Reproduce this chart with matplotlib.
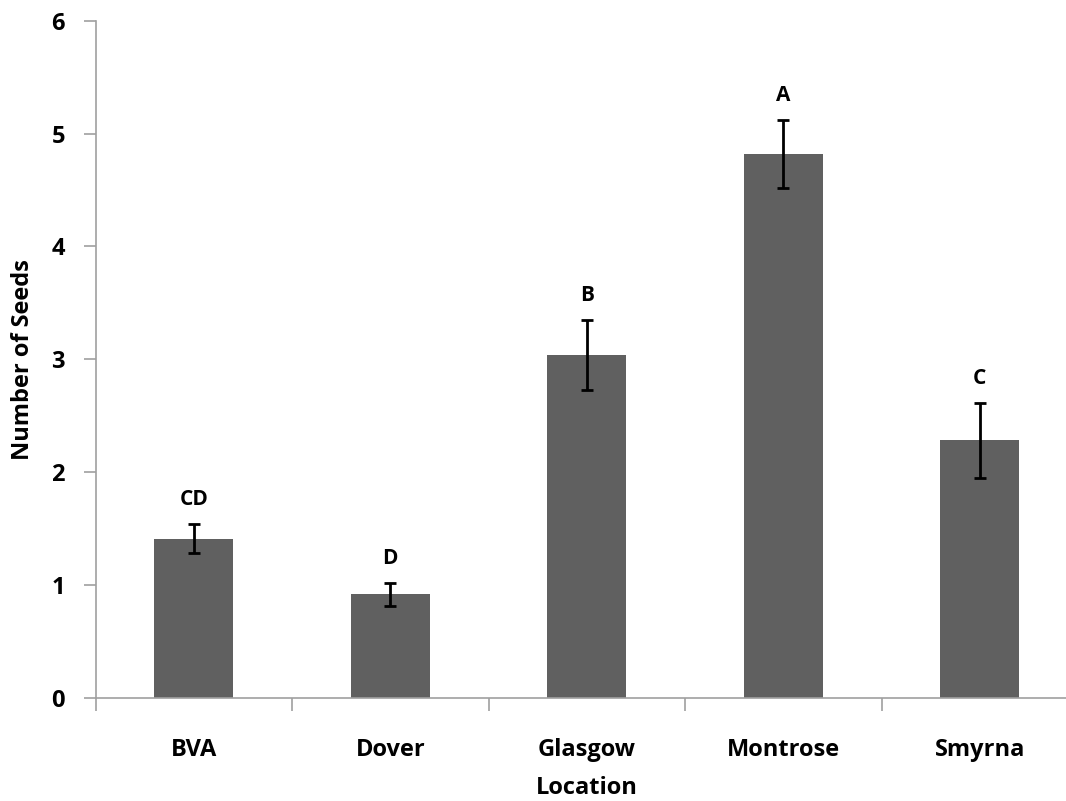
import matplotlib.pyplot as plt
import numpy as np

plt.rcParams['font.family'] = ['Open Sans', 'DejaVu Sans']

locations = ['BVA', 'Dover', 'Glasgow', 'Montrose', 'Smyrna']
seeds = [1.41, 0.915, 3.04, 4.82, 2.28]
errs = [0.13, 0.10, 0.31, 0.30, 0.33]
letters = ['CD', 'D', 'B', 'A', 'C']

fig = plt.figure(figsize=(10.66, 8.01), dpi=100)
ax = fig.add_axes([0.0896, 0.129, 0.9217, 0.845])

x = np.arange(len(locations))
ax.bar(x, seeds, width=0.40, color='#606060', zorder=2)
ax.errorbar(x, seeds, yerr=errs, fmt='none', ecolor='black', elinewidth=2,
            capsize=4, capthick=2, zorder=3)

# significance letters above the error bars
for i in range(len(x)):
    ax.annotate(letters[i], (x[i], seeds[i] + errs[i]), xytext=(0, 10),
                textcoords='offset points', ha='center', va='bottom',
                fontsize=15, fontweight='bold')

ax.set_xlim(-0.5, len(locations) - 0.5)
ax.set_ylim(0, 6)
ax.set_yticks(range(7))
ax.set_yticklabels([str(v) for v in range(7)], fontsize=17, fontweight='bold')
ax.set_xticks(x)
ax.set_xticklabels(locations, fontsize=17, fontweight='bold')
ax.set_xticks(np.arange(-0.5, len(locations)), minor=True)
ax.tick_params(axis='x', which='major', length=0, pad=29)
ax.tick_params(axis='x', which='minor', length=9, color='#a0a0a0', width=1.2)
ax.tick_params(axis='y', length=9, color='#a0a0a0', width=1.2, pad=13)

for s in ['top', 'right']:
    ax.spines[s].set_visible(False)
for s in ['left', 'bottom']:
    ax.spines[s].set_color('#a0a0a0')
    ax.spines[s].set_linewidth(1.2)

ax.set_xlabel('Location', fontsize=17, fontweight='bold', va='center')
ax.xaxis.set_label_coords(0.5, -0.134)
ax.set_ylabel('Number of Seeds', fontsize=17, fontweight='bold', va='center')
ax.yaxis.set_label_coords(-0.074, 0.5)

fig.savefig('out.png', dpi=100)
